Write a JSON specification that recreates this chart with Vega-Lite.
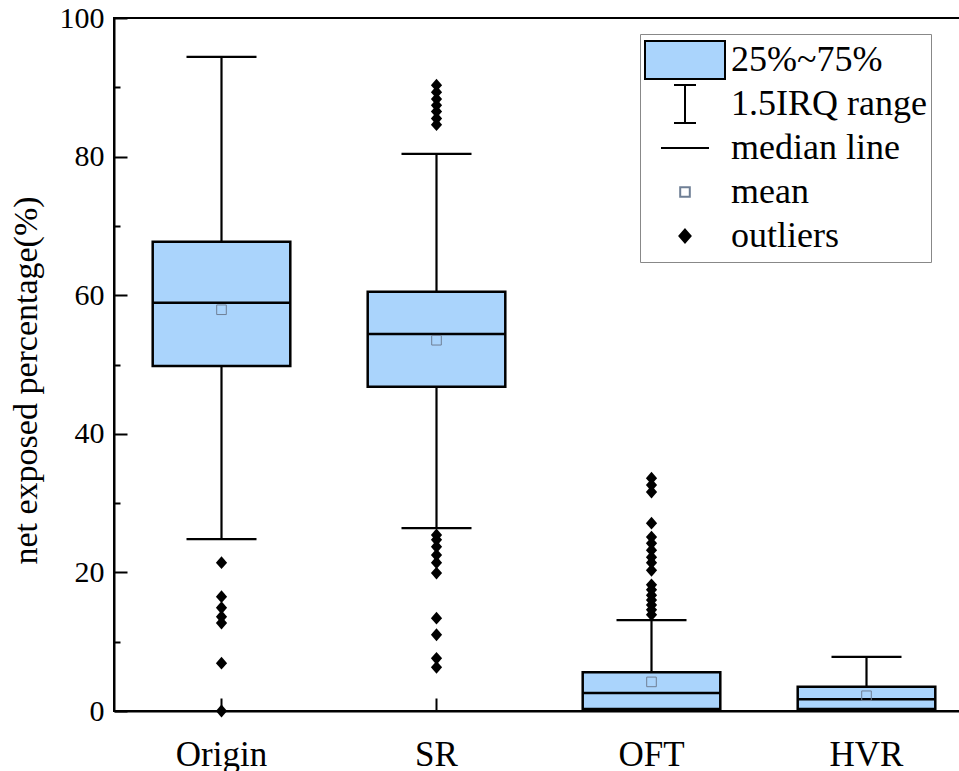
{
  "$schema": "https://vega.github.io/schema/vega-lite/v6.json",
  "autosize": {"type": "none"},
  "padding": {"left": 114, "top": 18, "right": -15, "bottom": 60},
  "width": 860,
  "height": 693,
  "config": {
    "view": {"stroke": "black", "strokeWidth": 2},
    "font": "Times New Roman, Liberation Serif, serif",
    "axis": {"domainColor": "black", "domainWidth": 2, "tickColor": "black", "tickWidth": 2, "labelColor": "black", "titleColor": "black", "labelFont": "Times New Roman, Liberation Serif, serif", "titleFont": "Times New Roman, Liberation Serif, serif", "titleFontWeight": "normal", "grid": false}
  },
  "datasets": {
    "summary": [
      {"group": "Origin", "lo": 24.8, "q1": 49.8, "med": 58.9, "q3": 67.7, "hi": 94.4, "mean": 57.9},
      {"group": "SR", "lo": 26.4, "q1": 46.8, "med": 54.4, "q3": 60.5, "hi": 80.4, "mean": 53.5},
      {"group": "OFT", "lo": 0, "q1": 0.3, "med": 2.6, "q3": 5.6, "hi": 13.1, "mean": 4.2},
      {"group": "HVR", "lo": 0, "q1": 0.3, "med": 1.7, "q3": 3.5, "hi": 7.8, "mean": 2.2}
    ],
    "outliers": [
      {"group": "Origin", "value": 21.4}, {"group": "Origin", "value": 16.5}, {"group": "Origin", "value": 14.9},
      {"group": "Origin", "value": 13.6}, {"group": "Origin", "value": 12.7}, {"group": "Origin", "value": 6.9},
      {"group": "Origin", "value": 0},
      {"group": "SR", "value": 90.3}, {"group": "SR", "value": 89.3}, {"group": "SR", "value": 88.3},
      {"group": "SR", "value": 87.4}, {"group": "SR", "value": 86.5}, {"group": "SR", "value": 85.5},
      {"group": "SR", "value": 84.6},
      {"group": "SR", "value": 25.4}, {"group": "SR", "value": 24.7}, {"group": "SR", "value": 23.7},
      {"group": "SR", "value": 22.5}, {"group": "SR", "value": 21.4}, {"group": "SR", "value": 19.9},
      {"group": "SR", "value": 13.4}, {"group": "SR", "value": 11.0}, {"group": "SR", "value": 7.6},
      {"group": "SR", "value": 6.3},
      {"group": "OFT", "value": 33.6}, {"group": "OFT", "value": 32.6}, {"group": "OFT", "value": 31.6},
      {"group": "OFT", "value": 27.1}, {"group": "OFT", "value": 25.1}, {"group": "OFT", "value": 24.2},
      {"group": "OFT", "value": 23.2}, {"group": "OFT", "value": 22.2}, {"group": "OFT", "value": 21.4},
      {"group": "OFT", "value": 20.3}, {"group": "OFT", "value": 18.2}, {"group": "OFT", "value": 17.5},
      {"group": "OFT", "value": 16.7}, {"group": "OFT", "value": 16.0}, {"group": "OFT", "value": 15.3},
      {"group": "OFT", "value": 14.6}, {"group": "OFT", "value": 13.9}
    ]
  },
  "encoding": {
    "x": {
      "field": "group", "type": "nominal", "sort": ["Origin", "SR", "OFT", "HVR"],
      "scale": {"type": "band", "domain": ["Origin", "SR", "OFT", "HVR"], "paddingInner": 0, "paddingOuter": 0},
      "axis": {"title": null, "labelAngle": 0, "labelFontSize": 35, "tickSize": -13, "labelPadding": 39}
    }
  },
  "layer": [
    {
      "data": {"name": "summary"},
      "mark": {"type": "rule", "strokeWidth": 2.2},
      "encoding": {
        "y": {
          "field": "lo", "type": "quantitative",
          "scale": {"domain": [0, 100], "nice": false},
          "axis": {
            "values": [0, 10, 20, 30, 40, 50, 60, 70, 80, 90, 100],
            "labelExpr": "datum.value % 20 === 0 ? datum.label : ''",
            "tickSize": {"condition": {"test": "datum.value % 20 === 0", "value": -13}, "value": -6},
            "labelFontSize": 30, "labelPadding": 23,
            "title": "net exposed percentage(%)", "titleFontSize": 34, "titlePadding": 16, "titleY": 362
          }
        },
        "y2": {"field": "hi"},
        "stroke": {
          "datum": "1.5IRQ range", "type": "nominal",
          "scale": {"domain": ["25%~75%", "1.5IRQ range", "median line", "mean", "outliers"], "range": ["black", "black", "black", "#6f7f95", "black"]},
          "legend": {"title": null, "orient": "none", "legendX": 526, "legendY": 16, "symbolSize": 6400, "symbolStrokeWidth": 2, "clipHeight": 44, "labelFont": "Times New Roman, Liberation Serif, serif", "labelFontSize": 36, "labelColor": "black", "labelOffset": 5, "labelLimit": 400, "padding": 4, "strokeColor": "#888888", "fillColor": "white", "rowPadding": 0, "symbolOpacity": 1}
        }
      }
    },
    {
      "data": {"name": "summary"},
      "mark": {"type": "tick", "size": 70, "thickness": 2.2, "color": "black", "opacity": 1},
      "encoding": {"y": {"field": "hi", "type": "quantitative"}}
    },
    {
      "data": {"name": "summary"},
      "mark": {"type": "tick", "size": 70, "thickness": 2.2, "color": "black", "opacity": 1},
      "encoding": {"y": {"field": "lo", "type": "quantitative"}}
    },
    {
      "data": {"name": "summary"},
      "mark": {"type": "bar", "width": {"band": 0.64}, "stroke": "black", "strokeWidth": 2.5, "opacity": 1},
      "encoding": {
        "y": {"field": "q1", "type": "quantitative"},
        "y2": {"field": "q3"},
        "fill": {
          "datum": "25%~75%", "type": "nominal",
          "scale": {"domain": ["25%~75%", "1.5IRQ range", "median line", "mean", "outliers"], "range": ["#aad4fc", "transparent", "transparent", "transparent", "black"]},
          "legend": {"title": null, "orient": "none", "legendX": 526, "legendY": 16, "symbolSize": 6400, "symbolStrokeWidth": 2, "clipHeight": 44, "labelFont": "Times New Roman, Liberation Serif, serif", "labelFontSize": 36, "labelColor": "black", "labelOffset": 5, "labelLimit": 400, "padding": 4, "strokeColor": "#888888", "fillColor": "white", "rowPadding": 0, "symbolOpacity": 1}
        }
      }
    },
    {
      "data": {"name": "summary"},
      "mark": {"type": "tick", "size": 138, "thickness": 2.5, "color": "black", "opacity": 1},
      "encoding": {"y": {"field": "med", "type": "quantitative"}}
    },
    {
      "data": {"name": "summary"},
      "mark": {"type": "point", "filled": true, "size": 6400, "stroke": "#6f7f95", "strokeWidth": 1, "opacity": 1},
      "encoding": {
        "y": {"field": "mean", "type": "quantitative"},
        "fill": {"datum": "mean", "type": "nominal"},
        "shape": {
          "datum": "mean", "type": "nominal",
          "scale": {"domain": ["25%~75%", "1.5IRQ range", "median line", "mean", "outliers"], "range": ["M-1,-0.475H1V0.475H-1Z", "M-0.275,-0.475H0.275M0,-0.475V0.475M-0.275,0.475H0.275", "M-0.6,0H0.6", "M-0.12,-0.12H0.12V0.12H-0.12Z", "M0,-0.16L0.14,0L0,0.16L-0.14,0Z"]},
          "legend": {"title": null, "orient": "none", "legendX": 526, "legendY": 16, "symbolSize": 6400, "symbolStrokeWidth": 2, "clipHeight": 44, "labelFont": "Times New Roman, Liberation Serif, serif", "labelFontSize": 36, "labelColor": "black", "labelOffset": 5, "labelLimit": 400, "padding": 4, "strokeColor": "#888888", "fillColor": "white", "rowPadding": 0, "symbolOpacity": 1}
        }
      }
    },
    {
      "data": {"name": "outliers"},
      "mark": {"type": "point", "filled": true, "size": 6400, "strokeWidth": 0, "opacity": 1},
      "encoding": {
        "y": {"field": "value", "type": "quantitative"},
        "fill": {"datum": "outliers", "type": "nominal"},
        "shape": {"datum": "outliers", "type": "nominal"}
      }
    }
  ]
}
